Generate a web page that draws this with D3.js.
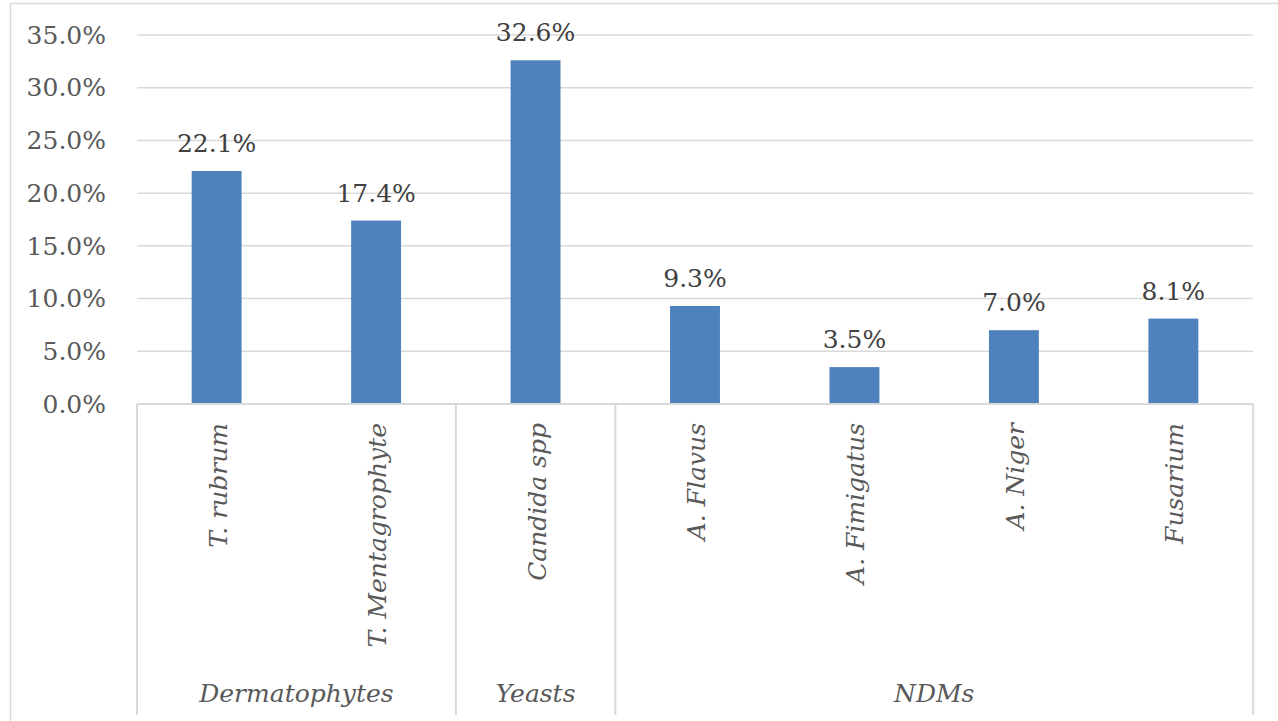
<!DOCTYPE html>
<html>
<head>
<meta charset="utf-8">
<script src="https://cdn.jsdelivr.net/npm/d3@7"></script>
<style>
  body { margin: 0; background: #fff; }
</style>
</head>
<body>
<div id="chart"></div>
<script>
// data
const species = ['T. rubrum', 'T. Mentagrophyte', 'Candida spp', 'A. Flavus', 'A. Fimigatus', 'A. Niger', 'Fusarium'];
const groupOf = ['Dermatophytes', 'Dermatophytes', 'Yeasts', 'NDMs', 'NDMs', 'NDMs', 'NDMs'];
const percents = [22.1, 17.4, 32.6, 9.3, 3.5, 7.0, 8.1];
const groupNames = ['Dermatophytes', 'Yeasts', 'NDMs'];
const yTicks = [0, 5, 10, 15, 20, 25, 30, 35];

const W = 1278, H = 721;
const plot = { left: 137, right: 1253, top: 35, bottom: 404 };
const barColor = '#4F81BD';
const lineColor = '#d9d9d9';
const serif = "'DejaVu Serif', serif";

const svg = d3.select('#chart').append('svg')
  .attr('width', W).attr('height', H)
  .attr('font-family', serif);

// outer chart border (cut off at right/bottom)
svg.append('rect')
  .attr('x', 10.5).attr('y', 3.5)
  .attr('width', 1400).attr('height', 900)
  .attr('fill', 'none').attr('stroke', lineColor).attr('stroke-width', 1.5);

const x = d3.scaleBand()
  .domain(species)
  .range([plot.left, plot.right])
  .paddingInner(0.687).paddingOuter(0.343);

const y = d3.scaleLinear().domain([0, 35]).range([plot.bottom, plot.top]);

// gridlines
svg.append('g')
  .selectAll('line')
  .data(yTicks)
  .join('line')
  .attr('x1', plot.left).attr('x2', plot.right)
  .attr('y1', (d) => y(d)).attr('y2', (d) => y(d))
  .attr('stroke', lineColor).attr('stroke-width', 1.5);

// y axis labels
const yAxis = svg.append('g')
  .attr('transform', `translate(${plot.left - 31},0)`)
  .call(d3.axisLeft(y).tickValues(yTicks).tickSize(0).tickFormat((d) => d.toFixed(1) + '%'))
  .attr('font-family', serif)
  .attr('font-size', 25);
yAxis.select('.domain').remove();
yAxis.selectAll('text')
  .attr('fill', '#595959')
  .attr('x', 0)
  .attr('dy', '0.33em');

// bars
svg.append('g')
  .selectAll('rect')
  .data(percents)
  .join('rect')
  .attr('x', (d, i) => x(species[i]))
  .attr('y', (d) => y(d))
  .attr('width', x.bandwidth())
  .attr('height', (d) => y(0) - y(d))
  .attr('fill', barColor);

// value labels
svg.append('g')
  .selectAll('text')
  .data(percents)
  .join('text')
  .attr('x', (d, i) => x(species[i]) + x.bandwidth() / 2)
  .attr('y', (d) => y(d) - 19)
  .attr('text-anchor', 'middle')
  .attr('font-size', 25)
  .attr('fill', '#404040')
  .text((d) => d.toFixed(1) + '%');

// category axis table
const step = x.step();
const catLeft = (i) => plot.left + i * step;
const axisG = svg.append('g');
const tableBottom = 715;

axisG.append('line')
  .attr('x1', plot.left).attr('x2', plot.right)
  .attr('y1', plot.bottom).attr('y2', plot.bottom)
  .attr('stroke', lineColor).attr('stroke-width', 2);

// boundaries: left edge, between groups, right edge
const boundaries = [0];
species.forEach((s, i) => {
  if (i > 0 && groupOf[i] !== groupOf[i - 1]) boundaries.push(i);
});
boundaries.push(species.length);

axisG.selectAll('line.sep')
  .data(boundaries)
  .join('line')
  .attr('class', 'sep')
  .attr('x1', (d) => catLeft(d)).attr('x2', (d) => catLeft(d))
  .attr('y1', plot.bottom).attr('y2', tableBottom)
  .attr('stroke', lineColor).attr('stroke-width', 2);

// rotated species labels
axisG.selectAll('text.cat')
  .data(species)
  .join('text')
  .attr('class', 'cat')
  .attr('transform', (d) => `translate(${x(d) + x.bandwidth() / 2 + 10},${plot.bottom + 19}) rotate(-90)`)
  .attr('text-anchor', 'end')
  .attr('font-size', 25)
  .attr('font-style', 'italic')
  .attr('fill', '#595959')
  .text((d) => d);

// group labels
axisG.selectAll('text.grp')
  .data(groupNames)
  .join('text')
  .attr('class', 'grp')
  .attr('x', (g) => {
    const idx = species.map((s, i) => i).filter((i) => groupOf[i] === g);
    return (catLeft(idx[0]) + catLeft(idx[idx.length - 1] + 1)) / 2;
  })
  .attr('y', 702)
  .attr('text-anchor', 'middle')
  .attr('font-size', 25)
  .attr('font-style', 'italic')
  .attr('fill', '#595959')
  .text((d) => d);
</script>
</body>
</html>
